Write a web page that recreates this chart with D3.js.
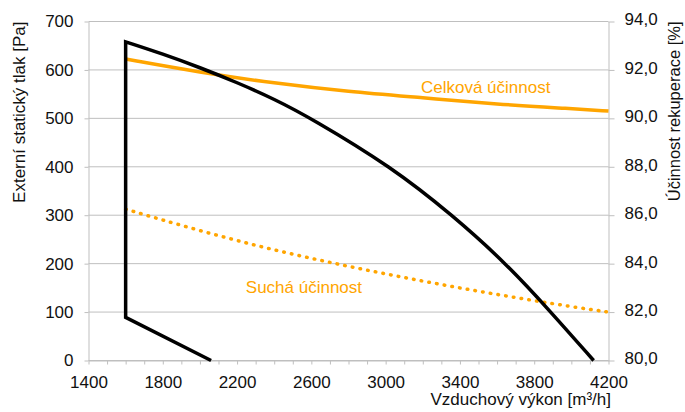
<!DOCTYPE html>
<html>
<head>
<meta charset="utf-8">
<script src="https://cdn.jsdelivr.net/npm/d3@7"></script>
<style>
  body { margin: 0; background: #fff; }
  svg { display: block; font-family: "Liberation Sans", Arial, sans-serif; }
</style>
</head>
<body>
<svg id="chart" width="685" height="412"></svg>
<script>
// airflow [m3/h] vs external static pressure [Pa]
const fanFlow = [1600, 1800, 2000, 2200, 2400, 2600, 3030, 3360, 3650, 3890, 4120];
const fanPressure = [658, 633, 605, 574, 540, 500, 400, 300, 200, 100, 0];
// left boundary of the working area
const boundaryFlow = [2060, 1600, 1600];
const boundaryPressure = [0, 89, 658];

// recuperation efficiency [%]
const effFlow = [1600, 2000, 2400, 2800, 3200, 3600, 4000, 4200];
const effTotal = [92.45, 91.9, 91.45, 91.1, 90.85, 90.58, 90.4, 90.3];
const effDry = [86.25, 85.35, 84.55, 83.88, 83.27, 82.72, 82.22, 82.0];

const xTicks = d3.range(1400, 4201, 100);
const xLabels = [1400, 1800, 2200, 2600, 3000, 3400, 3800, 4200];
const yTicks = d3.range(0, 701, 100);
const y2Ticks = d3.range(80, 94.1, 2);

const width = 685, height = 412;
const margin = { top: 21.5, right: 76.5, bottom: 51.5, left: 88.5 };
const innerW = width - margin.left - margin.right;
const innerH = height - margin.top - margin.bottom;

const orange = "#ffa500";
const gridColor = "#bfbfbf";

const svg = d3.select("#chart");
const g = svg.append("g").attr("transform", `translate(${margin.left},${margin.top})`);

const x = d3.scaleLinear().domain([1400, 4200]).range([0, innerW]);
const y = d3.scaleLinear().domain([0, 700]).range([innerH, 0]);
const y2 = d3.scaleLinear().domain([80, 94]).range([innerH, 0]);

// horizontal grid
g.append("g")
  .selectAll("line")
  .data(yTicks)
  .join("line")
  .attr("x1", 0)
  .attr("x2", innerW)
  .attr("y1", d => y(d))
  .attr("y2", d => y(d))
  .attr("stroke", gridColor)
  .attr("stroke-width", 1);

const xAxis = g.append("g")
  .attr("transform", `translate(0,${innerH})`)
  .call(d3.axisBottom(x)
    .tickValues(xTicks)
    .tickSize(4)
    .tickPadding(11)
    .tickSizeOuter(0)
    .tickFormat(d => xLabels.includes(d) ? d : ""));

const yAxis = g.append("g")
  .call(d3.axisLeft(y).tickValues(yTicks).tickSize(4).tickPadding(11).tickSizeOuter(0));

const y2Axis = g.append("g")
  .attr("transform", `translate(${innerW},0)`)
  .call(d3.axisRight(y2)
    .tickValues(y2Ticks)
    .tickSize(6)
    .tickPadding(10)
    .tickSizeOuter(0)
    .tickFormat(d => d.toFixed(1).replace(".", ",")));

[xAxis, yAxis, y2Axis].forEach(a => {
  a.selectAll(".domain").attr("stroke", gridColor);
  a.selectAll(".tick line").attr("stroke", gridColor);
  a.selectAll("text")
    .attr("font-size", 17)
    .attr("font-family", "Liberation Sans, Arial, sans-serif")
    .attr("fill", "#111");
});
y2Axis.selectAll("text").attr("dy", "0.2em");

// efficiency curves
const effLine = d3.line()
  .x(d => x(d[0]))
  .y(d => y2(d[1]))
  .curve(d3.curveBasis);

g.append("path")
  .datum(effFlow.map((f, i) => [f, effTotal[i]]))
  .attr("fill", "none")
  .attr("stroke", orange)
  .attr("stroke-width", 3.5)
  .attr("d", effLine);

g.append("path")
  .datum(effFlow.map((f, i) => [f, effDry[i]]))
  .attr("fill", "none")
  .attr("stroke", orange)
  .attr("stroke-width", 3.5)
  .attr("stroke-linecap", "round")
  .attr("stroke-dasharray", "0.6,7.2")
  .attr("d", effLine);

// working area: boundary + fan curve
const boundaryLine = d3.line().x(d => x(d[0])).y(d => y(d[1]));
const fanLine = d3.line().x(d => x(d[0])).y(d => y(d[1])).curve(d3.curveBasis);

const boundaryPts = boundaryFlow.map((f, i) => [f, boundaryPressure[i]]);
const fanPts = fanFlow.map((f, i) => [f, fanPressure[i]]);

g.append("path")
  .attr("fill", "none")
  .attr("stroke", "#000")
  .attr("stroke-width", 3.5)
  .attr("stroke-linejoin", "miter")
  .attr("d", boundaryLine(boundaryPts) + fanLine(fanPts).replace(/^M/, "L"));

// series labels
g.append("text")
  .attr("x", x(3190))
  .attr("y", y2(91.05))
  .attr("font-size", 17)
  .attr("fill", orange)
  .text("Celková účinnost");

g.append("text")
  .attr("x", x(2247))
  .attr("y", y2(82.8))
  .attr("font-size", 17)
  .attr("fill", orange)
  .text("Suchá účinnost");

// axis titles
svg.append("text")
  .attr("transform", `translate(25,${margin.top}) rotate(-90)`)
  .attr("text-anchor", "end")
  .attr("font-size", 17)
  .attr("fill", "#111")
  .text("Externí statický tlak [Pa]");

svg.append("text")
  .attr("transform", `translate(680,${margin.top}) rotate(-90)`)
  .attr("text-anchor", "end")
  .attr("font-size", 16.5)
  .attr("fill", "#111")
  .text("Účinnost rekuperace [%]");

svg.append("text")
  .attr("x", 611)
  .attr("y", 405)
  .attr("text-anchor", "end")
  .attr("font-size", 17)
  .attr("fill", "#111")
  .text("Vzduchový výkon [m³/h]");
</script>
</body>
</html>
